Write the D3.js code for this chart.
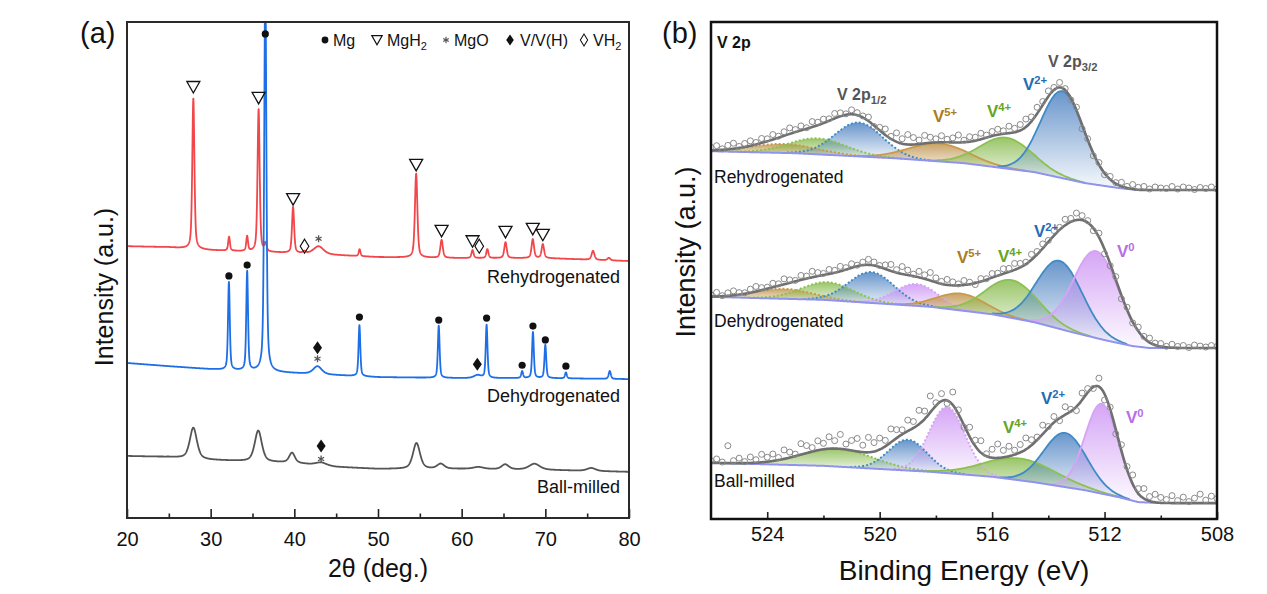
<!DOCTYPE html>
<html>
<head>
  <meta charset="utf-8">
  <script src="https://d3js.org/d3.v7.min.js"></script>
  <style>
    body { margin: 0; background: #fff; }
    svg { font-family: Arial, "Liberation Sans", sans-serif; }
    .tick text { font-size: 20px; fill: #111; }
    .tick line { stroke: #222; stroke-width: 1.6px; }
  </style>
</head>
<body>
  <svg id="fig" width="1267" height="594"></svg>
  <script>
    // ---------- (a) XRD data : baseline [2θ, a.u.] and peaks [2θ, height, fwhm] ----------
    const xrdTicks = [20, 30, 40, 50, 60, 70, 80];
    const xrdMinor = [25, 35, 45, 55, 65, 75];

    const rehydBase = [[20, 54.8], [25, 54.6], [30, 54.0], [40, 53.4], [50, 52.6], [60, 52.4], [70, 52.4], [80, 51.8]];
    const rehydPeaks = [
      [27.93, 30.4, 0.3], [32.2, 2.8, 0.25], [34.36, 3.0, 0.25], [35.73, 28.8, 0.3], [36.55, 1.6, 0.3],
      [39.85, 9.3, 0.3], [41.2, 0.4, 0.4], [42.9, 1.6, 1.4], [47.8, 1.4, 0.25], [54.56, 16.9, 0.35],
      [57.6, 3.6, 0.35], [61.3, 1.6, 0.3], [63.07, 1.8, 0.3], [65.24, 3.2, 0.35], [68.5, 3.8, 0.35],
      [69.7, 2.8, 0.35], [75.7, 1.8, 0.4], [77.6, 0.5, 0.4]
    ];

    const dehydBase = [[20, 31.25], [25, 30.6], [30, 30.0], [40, 29.2], [45, 28.8], [50, 28.4], [60, 28.2], [70, 28.2], [80, 28.0]];
    const dehydPeaks = [
      [32.18, 17.7, 0.25], [34.36, 20.0, 0.25], [36.53, 80, 0.3], [42.77, 1.6, 1.2], [47.78, 10.3, 0.25],
      [57.26, 10.5, 0.25], [61.9, 0.6, 1.0], [62.98, 10.7, 0.25], [67.23, 1.4, 0.25], [68.52, 9.3, 0.25],
      [70.0, 6.7, 0.25], [72.46, 1.2, 0.25], [77.7, 1.6, 0.3]
    ];

    const millBase = [[20, 12.5], [25, 12.3], [30, 11.7], [40, 11.1], [45, 10.3], [50, 9.9], [60, 9.9], [70, 9.7], [80, 9.3]];
    const millPeaks = [
      [27.93, 6.25, 1.0], [35.69, 6.25, 1.0], [39.72, 2.0, 0.8], [43.2, 0.6, 1.5], [54.6, 5.2, 1.0],
      [57.5, 1.0, 1.0], [62.0, 0.4, 1.5], [65.2, 1.0, 1.0], [68.7, 1.2, 1.5], [75.5, 0.6, 1.2]
    ];

    // phase markers [2θ, a.u.]
    const mgDots = [[32.18, 48.8], [34.36, 51.0], [36.53, 97.6], [47.78, 40.5], [57.26, 39.9], [62.98, 40.3],
                    [67.23, 30.8], [68.52, 38.7], [70.0, 35.9], [72.46, 30.6]];
    const mgh2Tri = [[27.93, 86.9], [35.73, 84.7], [39.85, 64.3], [54.56, 71.2], [57.6, 57.9], [61.3, 55.8],
                     [65.24, 57.7], [68.5, 58.3], [69.7, 57.1]];
    const vh2Dia = [[41.22, 54.8], [62.1, 54.8]];
    const mgoStar = [[42.9, 56.3], [42.77, 32.1], [43.2, 11.9]];
    const vDia = [[42.77, 34.3], [61.87, 31.0], [43.2, 14.5]];

    // ---------- (b) XPS data ----------
    const xpsTicks = [524, 520, 516, 512, 508];
    const xpsMinor = [522, 518, 514, 510];

    const reBase = [[526, 74.0], [523, 73.6], [519.5, 72.6], [517, 71.6], [514.5, 69.8], [512.7, 67.6], [511.5, 66.6], [510.8, 66.2], [508, 66.2]];
    const deBase = [[526, 44.7], [522, 44.1], [518.2, 42.7], [516, 41.2], [514.5, 39.6], [513.3, 37.8], [512, 36.0], [511, 34.8], [510.4, 34.4], [508, 34.4]];
    const bmBase = [[526, 11.3], [522, 10.7], [518.2, 9.5], [516, 8.5], [514.5, 7.4], [512.7, 5.8], [511.5, 4.4], [510.8, 3.4], [510, 3.2], [508, 3.2]];

    // components [species, level, centre eV, height, fwhm]
    const reComp = [
      ["V5+", "1/2", 523.4, 1.8, 2.8], ["V4+", "1/2", 522.2, 3.2, 2.4], ["V2+", "1/2", 520.75, 6.8, 2.0],
      ["V5+", "3/2", 517.9, 3.6, 2.5], ["V4+", "3/2", 515.5, 6.2, 2.2], ["V2+", "3/2", 513.5, 17.5, 1.8]
    ];
    const deComp = [
      ["V5+", "1/2", 523.4, 2.0, 2.4], ["V4+", "1/2", 521.85, 3.6, 2.2], ["V2+", "1/2", 520.3, 6.2, 1.9],
      ["V0", "1/2", 518.7, 4.4, 1.8], ["V5+", "3/2", 517.1, 3.4, 2.0], ["V4+", "3/2", 515.3, 7.6, 2.2],
      ["V2+", "3/2", 513.6, 13.7, 1.9], ["V0", "3/2", 512.3, 17.5, 1.9]
    ];
    const bmComp = [
      ["V4+", "1/2", 521.5, 3.6, 3.0], ["V2+", "1/2", 519.0, 6.2, 1.6], ["V0", "1/2", 517.6, 13.3, 1.5],
      ["V4+", "3/2", 515.0, 4.4, 3.0], ["V2+", "3/2", 513.4, 10.9, 1.8], ["V0", "3/2", 512.1, 18.1, 1.4]
    ];

    // raw-data scatter about the fit, every 0.2 eV from 526 to 508
    const reResid = [0.6,0.9,0.2,0.8,1.1,0.3,0.7,1.0,0.4,0.9,0.5, 1.0,0.3,0.8,1.2,0.5,0.9,0.2,1.1,0.6,0.8,
      0.4,1.0,0.7,0.2,0.9,0.5,0.3,0.8,-0.2,0.6, 1.2,0.5,1.8,1.0,2.0,1.4,0.8,1.6,1.1,0.7,
      1.3,0.6,0.9,1.5,0.4,1.0,0.7,1.2,0.5,0.9, 1.1,0.6,1.4,0.8,1.2,1.6,0.9,1.3,0.7,1.1,
      0.5,1.0,0.3,-0.4,0.6,-0.8,0.2,-0.5,0.4,-0.3, 0.6,0.2,0.8,0.3,0.9,0.5,0.7,0.2,0.6,0.4,
      0.3,0.7,0.2,0.6,0.4,0.1,0.5,0.3,0.6,0.2];
    const deResid = [0.3,0.8,0.1,0.6,0.9,0.4,0.2,0.7,1.0,0.5,0.3, 0.8,0.4,1.1,0.6,0.2,0.9,0.5,1.2,0.7,0.3,
      0.9,0.5,1.0,0.4,0.8,0.2,0.6,1.1,0.7,0.3, 0.8,1.3,0.6,1.5,1.0,0.4,1.2,0.8,1.6,0.9,
      0.5,1.1,0.7,0.3,0.9,0.4,-0.3,0.6,0.2,0.8, 0.5,1.0,0.7,1.3,0.8,0.4,1.1,0.6,0.9,0.3,
      1.0,0.5,1.2,0.7,1.4,0.9,0.4,-0.5,0.8,-0.9, -0.4,0.6,-0.7,0.5,-0.2,0.8,0.3,0.9,0.4,0.6,
      0.2,0.7,0.3,0.5,0.1,0.6,0.4,0.2,0.5,0.3];
    const bmResid = [0.4,0.8,0.2,3.5,0.5,1.0,0.3,1.2,0.6,1.6,0.9, 1.4,0.5,1.8,1.1,0.4,2.2,1.5,0.8,1.9,1.2,
      2.4,1.6,2.9,1.1,2.0,2.6,1.4,3.0,1.8,2.3, 1.2,2.7,1.7,0.9,2.2,1.3,2.8,1.6,3.3,0.6,
      1.5,-0.6,2.6,0.8,-0.4,1.9,1.2,2.4,0.5,1.7, 2.8,1.4,2.0,0.9,1.6,2.3,1.1,0.6,1.8,0.3,
      1.2,-0.5,1.6,0.4,-0.8,1.4,0.8,-0.3,1.7,-1.2, 0.4,-0.9,1.2,0.6,1.8,1.0,2.0,0.9,1.6,1.1,
      0.7,1.5,0.5,1.2,0.3,1.0,1.8,0.6,1.4,0.9];

    const species = {
      "V0":  { line: "#d6a3f6", fill: "#c98cf3", text: "#b66fe6" },
      "V2+": { line: "#3f8bc6", fill: "#3f78bd", text: "#1f6db5" },
      "V4+": { line: "#8cc152", fill: "#7db53e", text: "#67a424" },
      "V5+": { line: "#c99a4c", fill: "#b98a3c", text: "#ad7c1c" }
    };

    const svg = d3.select("#fig");
    const defs = svg.append("defs");

    function pv(x, c, h, w) { // pseudo-Voigt peak
      const d = (x - c) / (w / 2);
      return h * (0.5 / (1 + d * d) + 0.5 * Math.exp(-Math.LN2 * d * d));
    }
    function gauss(x, c, h, w) {
      const d = (x - c) / (w / 2);
      return h * Math.exp(-Math.LN2 * d * d);
    }
    function piecewise(pts) {
      return d3.scaleLinear().domain(pts.map(p => p[0])).range(pts.map(p => p[1])).clamp(true);
    }

    // ================= panel (a) =================
    const xA = d3.scaleLinear().domain([20, 80]).range([127, 629]);
    const yA = d3.scaleLinear().domain([0, 100]).range([518, 22]);
    defs.append("clipPath").attr("id", "clipA").append("rect")
      .attr("x", 127).attr("y", 22).attr("width", 502).attr("height", 496);

    const gA = svg.append("g");
    const grid = d3.range(20, 80.0001, 0.02);
    const lineA = d3.line().x(d => xA(d[0])).y(d => yA(d[1]));
    const patterns = [
      { base: millBase, peaks: millPeaks, color: "#555555" },
      { base: rehydBase, peaks: rehydPeaks, color: "#f2474a" },
      { base: dehydBase, peaks: dehydPeaks, color: "#1e6fe6" }
    ];
    patterns.forEach(p => {
      const b = piecewise(p.base);
      const pts = grid.map(t => [t, b(t) + d3.sum(p.peaks, k => pv(t, k[0], k[1], k[2]))]);
      gA.append("path").attr("clip-path", "url(#clipA)")
        .attr("d", lineA(pts)).attr("fill", "none")
        .attr("stroke", p.color).attr("stroke-width", 1.8).attr("stroke-linejoin", "round");
    });

    const triPath = "M-6.5,-5.5L6.5,-5.5L0,6Z";
    const openDia = "M0,-7L4.3,0L0,7L-4.3,0Z";
    const fullDia = "M0,-6.5L4.5,0L0,6.5L-4.5,0Z";
    const star = d3.symbol(d3.symbolAsterisk, 34)();

    gA.selectAll(".dot").data(mgDots).join("circle")
      .attr("cx", d => xA(d[0])).attr("cy", d => yA(d[1])).attr("r", 3.6).attr("fill", "#111");
    gA.selectAll(".tri").data(mgh2Tri).join("path")
      .attr("transform", d => `translate(${xA(d[0])},${yA(d[1])})`)
      .attr("d", triPath).attr("fill", "none").attr("stroke", "#111").attr("stroke-width", 1.3);
    gA.selectAll(".odia").data(vh2Dia).join("path")
      .attr("transform", d => `translate(${xA(d[0])},${yA(d[1])})`)
      .attr("d", openDia).attr("fill", "none").attr("stroke", "#111").attr("stroke-width", 1.2);
    gA.selectAll(".fdia").data(vDia).join("path")
      .attr("transform", d => `translate(${xA(d[0])},${yA(d[1])})`)
      .attr("d", fullDia).attr("fill", "#111");
    gA.selectAll(".star").data(mgoStar).join("path")
      .attr("transform", d => `translate(${xA(d[0])},${yA(d[1])})`)
      .attr("d", star).attr("fill", "none").attr("stroke", "#555").attr("stroke-width", 1.3);

    // legend
    const lg = svg.append("g").style("font-size", "16px").attr("fill", "#111");
    lg.append("circle").attr("cx", 325).attr("cy", 40).attr("r", 3.4).attr("fill", "#111");
    lg.append("text").attr("x", 333).attr("y", 46).text("Mg");
    lg.append("path").attr("transform", "translate(377,40) scale(0.8)").attr("d", triPath)
      .attr("fill", "none").attr("stroke", "#111").attr("stroke-width", 1.5);
    const t2 = lg.append("text").attr("x", 387).attr("y", 46);
    t2.append("tspan").text("MgH");
    t2.append("tspan").attr("dy", 4).style("font-size", "11px").text("2");
    lg.append("path").attr("transform", "translate(446,40)").attr("d", d3.symbol(d3.symbolAsterisk, 28)())
      .attr("fill", "none").attr("stroke", "#555").attr("stroke-width", 1.2);
    lg.append("text").attr("x", 454).attr("y", 46).text("MgO");
    lg.append("path").attr("transform", "translate(510,40) scale(0.85)").attr("d", fullDia).attr("fill", "#111");
    lg.append("text").attr("x", 520).attr("y", 46).text("V/V(H)");
    lg.append("path").attr("transform", "translate(584,40) scale(0.85)").attr("d", openDia)
      .attr("fill", "none").attr("stroke", "#111").attr("stroke-width", 1.2);
    const t5 = lg.append("text").attr("x", 593).attr("y", 46);
    t5.append("tspan").text("VH");
    t5.append("tspan").attr("dy", 4).style("font-size", "11px").text("2");

    // sample names
    const nameA = svg.append("g").style("font-size", "18px").attr("fill", "#111").attr("text-anchor", "end");
    nameA.append("text").attr("x", 620).attr("y", 283).text("Rehydrogenated");
    nameA.append("text").attr("x", 620).attr("y", 402).text("Dehydrogenated");
    nameA.append("text").attr("x", 620).attr("y", 493).text("Ball-milled");

    // axes
    svg.append("g").attr("transform", "translate(0,518)")
      .call(d3.axisBottom(xA).tickValues(xrdTicks).tickSizeInner(-9).tickSizeOuter(0).tickPadding(14))
      .call(g => g.select(".domain").remove());
    svg.append("g").attr("transform", "translate(0,518)")
      .call(d3.axisBottom(xA).tickValues(xrdMinor).tickSizeInner(-4.5).tickSizeOuter(0).tickFormat(""))
      .call(g => g.select(".domain").remove());
    svg.append("rect").attr("x", 127).attr("y", 22).attr("width", 502).attr("height", 496)
      .attr("fill", "none").attr("stroke", "#2a2a2a").attr("stroke-width", 2);

    svg.append("text").attr("x", 378).attr("y", 577).attr("text-anchor", "middle")
      .style("font-size", "25px").attr("fill", "#111").text("2θ (deg.)");
    svg.append("text").attr("transform", "translate(113,287) rotate(-90)").attr("text-anchor", "middle")
      .style("font-size", "25px").attr("fill", "#111").text("Intensity (a.u.)");
    svg.append("text").attr("x", 80).attr("y", 43).style("font-size", "29px").attr("fill", "#111").text("(a)");

    // ================= panel (b) =================
    const xB = d3.scaleLinear().domain([526, 508]).range([711, 1217]);
    const yB = d3.scaleLinear().domain([0, 100]).range([519, 22]);
    defs.append("clipPath").attr("id", "clipB").append("rect")
      .attr("x", 711).attr("y", 22).attr("width", 506).attr("height", 497);

    Object.entries(species).forEach(([k, s]) => {
      const gr = defs.append("linearGradient").attr("id", "gr" + k.replace("+", "p"))
        .attr("x1", 0).attr("y1", 0).attr("x2", 0).attr("y2", 1);
      gr.append("stop").attr("offset", 0).attr("stop-color", s.fill).attr("stop-opacity", 0.78);
      gr.append("stop").attr("offset", 1).attr("stop-color", s.fill).attr("stop-opacity", 0.04);
    });

    const gB = svg.append("g").attr("clip-path", "url(#clipB)");
    const fine = d3.range(526, 507.999, -0.05);
    const rawX = d3.range(91).map(i => 526 - 0.2 * i);
    const spectra = [
      { base: reBase, comp: reComp, resid: reResid },
      { base: deBase, comp: deComp, resid: deResid },
      { base: bmBase, comp: bmComp, resid: bmResid }
    ];
    const lineB = d3.line().x(d => xB(d[0])).y(d => yB(d[1])).curve(d3.curveMonotoneX);
    const areaB = d3.area().x(d => xB(d[0])).y0(d => yB(d[1])).y1(d => yB(d[2]));

    spectra.forEach(sp => {
      const b = piecewise(sp.base);
      const env = x => b(x) + d3.sum(sp.comp, c => gauss(x, c[2], c[3], c[4]));
      sp.comp.forEach(c => {
        const pts = fine.filter(x => gauss(x, c[2], c[3], c[4]) > 0.01 * c[3])
          .map(x => [x, b(x), b(x) + gauss(x, c[2], c[3], c[4])]);
        gB.append("path").attr("d", areaB(pts))
          .attr("fill", `url(#gr${c[0].replace("+", "p")})`);
      });
      sp.comp.forEach(c => {
        const pts = fine.filter(x => gauss(x, c[2], c[3], c[4]) > 0.01 * c[3])
          .map(x => [x, b(x) + gauss(x, c[2], c[3], c[4])]);
        const p = gB.append("path").attr("d", lineB(pts)).attr("fill", "none")
          .attr("stroke", species[c[0]].line).attr("stroke-width", c[1] === "3/2" ? 1.8 : 2);
        if (c[1] === "1/2") p.attr("stroke-dasharray", "2,2");
      });
      gB.append("path").attr("d", lineB(fine.map(x => [x, b(x)]))).attr("fill", "none")
        .attr("stroke", "#8f93ee").attr("stroke-width", 2);
      gB.append("path").attr("d", lineB(fine.map(x => [x, env(x)]))).attr("fill", "none")
        .attr("stroke", "#6f6f6f").attr("stroke-width", 2.6);
      gB.selectAll(null).data(rawX.map((x, i) => [x, env(x) + sp.resid[i]])).join("circle")
        .attr("cx", d => xB(d[0])).attr("cy", d => yB(d[1])).attr("r", 3)
        .attr("fill", "none").attr("stroke", "#8a8a8a").attr("stroke-width", 1);
    });

    svg.append("g").attr("transform", "translate(0,519)")
      .call(d3.axisBottom(xB).tickValues(xpsTicks).tickSizeInner(-7).tickSizeOuter(0).tickPadding(8).tickFormat(d3.format("d")))
      .call(g => g.select(".domain").remove());
    svg.append("g").attr("transform", "translate(0,519)")
      .call(d3.axisBottom(xB).tickValues(xpsMinor).tickSizeInner(-3.5).tickSizeOuter(0).tickFormat(""))
      .call(g => g.select(".domain").remove());
    svg.append("rect").attr("x", 711).attr("y", 22).attr("width", 506).attr("height", 497)
      .attr("fill", "none").attr("stroke", "#111").attr("stroke-width", 2.5);

    function supText(x, y, main, sup, color, size, weight) {
      const t = svg.append("text").attr("x", x).attr("y", y).attr("fill", color)
        .attr("font-weight", weight).style("font-size", size + "px");
      t.append("tspan").text(main);
      t.append("tspan").attr("dy", -size * 0.38).style("font-size", (size * 0.66) + "px").text(sup);
    }
    function subText(x, y, main, sub, color, size) {
      const t = svg.append("text").attr("x", x).attr("y", y).attr("fill", color)
        .attr("font-weight", "bold").style("font-size", size + "px");
      t.append("tspan").text(main);
      t.append("tspan").attr("dy", size * 0.25).style("font-size", (size * 0.7) + "px").text(sub);
    }

    svg.append("text").attr("x", 717).attr("y", 48).attr("font-weight", "bold")
      .style("font-size", "16px").attr("fill", "#111").text("V 2p");
    subText(837, 100, "V 2p", "1/2", "#555", 16);
    subText(1048, 67, "V 2p", "3/2", "#555", 16);

    // rehydrogenated
    supText(933, 122, "V", "5+", species["V5+"].text, 17, "bold");
    supText(987, 117, "V", "4+", species["V4+"].text, 17, "bold");
    supText(1023, 90, "V", "2+", species["V2+"].text, 17, "bold");
    // dehydrogenated
    supText(957, 263, "V", "5+", species["V5+"].text, 17, "bold");
    supText(998, 262, "V", "4+", species["V4+"].text, 17, "bold");
    supText(1034, 237, "V", "2+", species["V2+"].text, 17, "bold");
    supText(1117, 257, "V", "0", species["V0"].text, 17, "bold");
    // ball-milled
    supText(1003, 433, "V", "4+", species["V4+"].text, 17, "bold");
    supText(1041, 404, "V", "2+", species["V2+"].text, 17, "bold");
    supText(1126, 423, "V", "0", species["V0"].text, 17, "bold");

    const nameB = svg.append("g").style("font-size", "17.5px").attr("fill", "#111");
    nameB.append("text").attr("x", 714).attr("y", 183).text("Rehydrogenated");
    nameB.append("text").attr("x", 714).attr("y", 327).text("Dehydrogenated");
    nameB.append("text").attr("x", 714).attr("y", 487).text("Ball-milled");

    svg.append("text").attr("x", 964).attr("y", 580).attr("text-anchor", "middle")
      .style("font-size", "28px").attr("fill", "#111").text("Binding Energy (eV)");
    svg.append("text").attr("transform", "translate(695,252) rotate(-90)").attr("text-anchor", "middle")
      .style("font-size", "27px").attr("fill", "#111").text("Intensity (a.u.)");
    svg.append("text").attr("x", 662).attr("y", 43).style("font-size", "29px").attr("fill", "#111").text("(b)");
  </script>
</body>
</html>
